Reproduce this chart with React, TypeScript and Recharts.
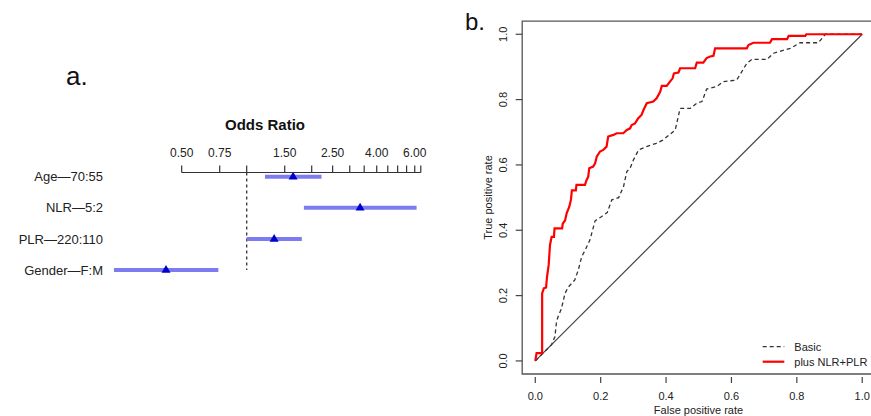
import React from 'react'
import {
  ComposedChart,
  Scatter,
  ErrorBar,
  Line,
  LineChart,
  XAxis,
  YAxis,
  ReferenceLine,
  ReferenceArea,
} from 'recharts'

// panel a: odds ratios with 95% CI
const rowLabels = ['Age\u201470:55', 'NLR\u20145:2', 'PLR\u2014220:110', 'Gender\u2014F:M']
const oddsRatio = [1.64, 3.35, 1.34, 0.423]
const ciLow = [1.215, 1.84, 1.0, 0.243]
const ciHigh = [2.22, 6.12, 1.8, 0.739]
const orTicks = [0.5, 0.75, 1, 1.5, 2, 2.5, 3, 3.5, 4, 4.5, 5, 5.5, 6, 6.4]
const orLabelled = [0.5, 0.75, 1.5, 2.5, 4, 6]

// panel b: ROC curves
const plusFpr = [
  0, 0.004, 0.021, 0.021, 0.026, 0.033, 0.036, 0.041, 0.045, 0.05, 0.057, 0.059, 0.082, 0.084, 0.091,
  0.096, 0.104, 0.109, 0.112, 0.124, 0.126, 0.152, 0.157, 0.162, 0.165, 0.177, 0.183, 0.188, 0.198,
  0.208, 0.218, 0.223, 0.239, 0.249, 0.269, 0.28, 0.29, 0.295, 0.305, 0.315, 0.325, 0.331, 0.341,
  0.361, 0.371, 0.382, 0.387, 0.402, 0.412, 0.42, 0.424, 0.438, 0.443, 0.489, 0.494, 0.514, 0.524,
  0.535, 0.545, 0.55, 0.647, 0.652, 0.667, 0.718, 0.724, 0.77, 0.775, 0.826, 0.829, 1,
]
const plusTpr = [
  0, 0.024, 0.024, 0.207, 0.222, 0.225, 0.258, 0.294, 0.355, 0.38, 0.38, 0.406, 0.406, 0.42, 0.43,
  0.452, 0.472, 0.493, 0.522, 0.522, 0.539, 0.539, 0.554, 0.564, 0.59, 0.595, 0.605, 0.625, 0.641,
  0.646, 0.656, 0.687, 0.692, 0.697, 0.697, 0.707, 0.712, 0.722, 0.727, 0.743, 0.753, 0.768, 0.789,
  0.794, 0.804, 0.824, 0.842, 0.842, 0.855, 0.865, 0.88, 0.883, 0.896, 0.896, 0.913, 0.913, 0.927,
  0.932, 0.934, 0.957, 0.957, 0.967, 0.974, 0.974, 0.985, 0.985, 0.995, 0.995, 1, 1,
]
const basicFpr = [
  0, 0.02, 0.04, 0.05, 0.06, 0.065, 0.07, 0.08, 0.091, 0.101, 0.121, 0.132, 0.142, 0.153, 0.167, 0.183,
  0.2, 0.22, 0.234, 0.255, 0.27, 0.28, 0.29, 0.3, 0.316, 0.34, 0.37, 0.39, 0.41, 0.428, 0.443, 0.474,
  0.494, 0.51, 0.524, 0.555, 0.575, 0.616, 0.626, 0.647, 0.662, 0.708, 0.729, 0.78, 0.81, 0.866,
  0.887, 1,
]
const basicTpr = [
  0, 0.02, 0.04, 0.05, 0.074, 0.12, 0.136, 0.16, 0.207, 0.226, 0.248, 0.28, 0.319, 0.34, 0.37, 0.429,
  0.44, 0.454, 0.493, 0.5, 0.534, 0.58, 0.59, 0.615, 0.646, 0.656, 0.666, 0.676, 0.692, 0.707, 0.773,
  0.773, 0.789, 0.794, 0.832, 0.84, 0.855, 0.86, 0.876, 0.911, 0.923, 0.923, 0.942, 0.957, 0.974,
  0.974, 1, 1,
]
const chanceFpr = [0, 1]
const chanceTpr = [0, 1]
const rocTicks = [0, 0.2, 0.4, 0.6, 0.8, 1]

const font = 'Liberation Sans, Arial, Helvetica, sans-serif'
const ink = '#222'

const forestData = rowLabels.map((label, i) => ({
  row: i + 1,
  label,
  or: oddsRatio[i],
  err: [oddsRatio[i] - ciLow[i], ciHigh[i] - oddsRatio[i]],
}))

const toPoints = (xs: number[], ys: number[]) => xs.map((fpr, i) => ({ fpr, tpr: ys[i] }))
const plusData = toPoints(plusFpr, plusTpr)
const basicData = toPoints(basicFpr, basicTpr)
const chanceData = toPoints(chanceFpr, chanceTpr)

const Y_TOP = 0.865

const Triangle = (p: any) => {
  const { cx, cy } = p
  return <polygon points={`${cx},${cy - 5} ${cx - 4.5},${cy + 2.8} ${cx + 4.5},${cy + 2.8}`} fill="#0000cc" />
}

const RocXTick = (p: any) => {
  const { x, y, payload } = p
  return (
    <g>
      <line x1={x} x2={x} y1={y + 3} y2={y + 9} stroke="#444" strokeWidth={1.2} />
      <text x={x} y={y + 26} textAnchor="middle" fontSize={11} fill={ink} fontFamily={font}>
        {payload.value.toFixed(1)}
      </text>
    </g>
  )
}

const RocYTick = (p: any) => {
  const { x, y, payload } = p
  const tx = x - 15
  return (
    <g>
      <line x1={x - 6.5} x2={x} y1={y} y2={y} stroke="#444" strokeWidth={1.2} />
      <text
        x={tx}
        y={y}
        transform={`rotate(-90, ${tx}, ${y})`}
        textAnchor="middle"
        fontSize={11}
        fill={ink}
        fontFamily={font}
      >
        {payload.value.toFixed(1)}
      </text>
    </g>
  )
}

export default function App() {
  return (
    <div
      style={{
        position: 'fixed',
        left: 0,
        top: 0,
        width: 871,
        height: 416,
        overflow: 'hidden',
        background: '#fff',
        fontFamily: font,
      }}
    >
      <div style={{ position: 'absolute', left: 0, top: 0 }}>
        <ComposedChart
          width={440}
          height={290}
          data={forestData}
          margin={{ top: 132.5, right: 10.8, bottom: 13.8, left: 0 }}
        >
          <XAxis
            xAxisId={0}
            dataKey="or"
            type="number"
            scale="log"
            orientation="top"
            domain={[0.2255, 7]}
            allowDataOverflow
            ticks={orTicks}
            interval={0}
            height={40}
            axisLine={false}
            tickLine={{ stroke: '#333', strokeWidth: 1.2 }}
            tickSize={7}
            tickMargin={9}
            tick={{ fontSize: 12, fill: ink, fontFamily: font }}
            tickFormatter={(v: number) => (orLabelled.includes(v) ? v.toFixed(2) : '')}
          />
          <YAxis
            yAxisId={0}
            dataKey="row"
            type="number"
            reversed
            domain={[Y_TOP, 4.2]}
            allowDataOverflow
            ticks={[1, 2, 3, 4]}
            interval={0}
            width={107}
            axisLine={false}
            tickLine={false}
            tickSize={0}
            tickMargin={4}
            tick={{ fontSize: 13, fill: ink, fontFamily: font }}
            tickFormatter={(v: number) => rowLabels[v - 1] ?? ''}
          />
          <ReferenceLine
            segment={[{ x: 0.5, y: Y_TOP }, { x: 6.4, y: Y_TOP }]}
            stroke="#333"
            strokeWidth={1.2}
          />
          <ReferenceLine
            segment={[{ x: 1, y: Y_TOP }, { x: 1, y: 4 }]}
            stroke="#333"
            strokeWidth={1.3}
            strokeDasharray="3 3"
          />
          <Scatter data={forestData} shape={Triangle} isAnimationActive={false}>
            <ErrorBar dataKey="err" direction="x" width={0} stroke="#7c7cf0" strokeWidth={4} />
          </Scatter>
        </ComposedChart>
      </div>

      <div style={{ position: 'absolute', left: 440, top: 0 }}>
        <LineChart width={445} height={416} margin={{ top: 21.2, right: 9.7, bottom: 12, left: 30 }}>
          <XAxis
            dataKey="fpr"
            type="number"
            domain={[-0.04, 1.04]}
            allowDataOverflow
            ticks={rocTicks}
            interval={0}
            height={30}
            axisLine={false}
            tickLine={false}
            tickSize={0}
            tickMargin={0}
            tick={RocXTick}
          />
          <YAxis
            type="number"
            domain={[-0.04, 1.04]}
            allowDataOverflow
            ticks={rocTicks}
            interval={0}
            width={52.2}
            axisLine={false}
            tickLine={false}
            tickSize={0}
            tickMargin={0}
            tick={RocYTick}
          />
          <ReferenceArea x1={-0.04} x2={1.04} y1={-0.04} y2={1.04} fill="none" stroke="#555" strokeWidth={1.3} />
          <Line data={chanceData} dataKey="tpr" stroke="#444" strokeWidth={1.2} dot={false} activeDot={false} isAnimationActive={false} />
          <Line data={basicData} dataKey="tpr" stroke="#333" strokeWidth={1.3} strokeDasharray="4 3" dot={false} activeDot={false} isAnimationActive={false} />
          <Line data={plusData} dataKey="tpr" stroke="#ff0000" strokeWidth={2.2} dot={false} activeDot={false} isAnimationActive={false} />
        </LineChart>
      </div>

      <svg width={871} height={416} style={{ position: 'absolute', left: 0, top: 0, pointerEvents: 'none' }}>
        <text x={66} y={85} fontSize={26} fill="#111" fontFamily={font}>a.</text>
        <text x={465} y={30} fontSize={24} fill="#111" fontFamily={font}>b.</text>
        <text x={265} y={130} fontSize={15} fontWeight="bold" textAnchor="middle" fill="#111" fontFamily={font}>
          Odds Ratio
        </text>
        <text x={698.5} y={414} fontSize={11} textAnchor="middle" fill={ink} fontFamily={font}>
          False positive rate
        </text>
        <text
          x={492}
          y={197.5}
          transform="rotate(-90, 492, 197.5)"
          fontSize={11}
          textAnchor="middle"
          fill={ink}
          fontFamily={font}
        >
          True positive rate
        </text>
        <line x1={762.7} x2={784.3} y1={346.7} y2={346.7} stroke="#333" strokeWidth={1.3} strokeDasharray="4 3" />
        <text x={794.3} y={350.7} fontSize={11} fill={ink} fontFamily={font}>Basic</text>
        <line x1={762.7} x2={784.3} y1={361.7} y2={361.7} stroke="#ff0000" strokeWidth={2.2} />
        <text x={794.3} y={365.7} fontSize={11} fill={ink} fontFamily={font}>plus NLR+PLR</text>
      </svg>
    </div>
  )
}
